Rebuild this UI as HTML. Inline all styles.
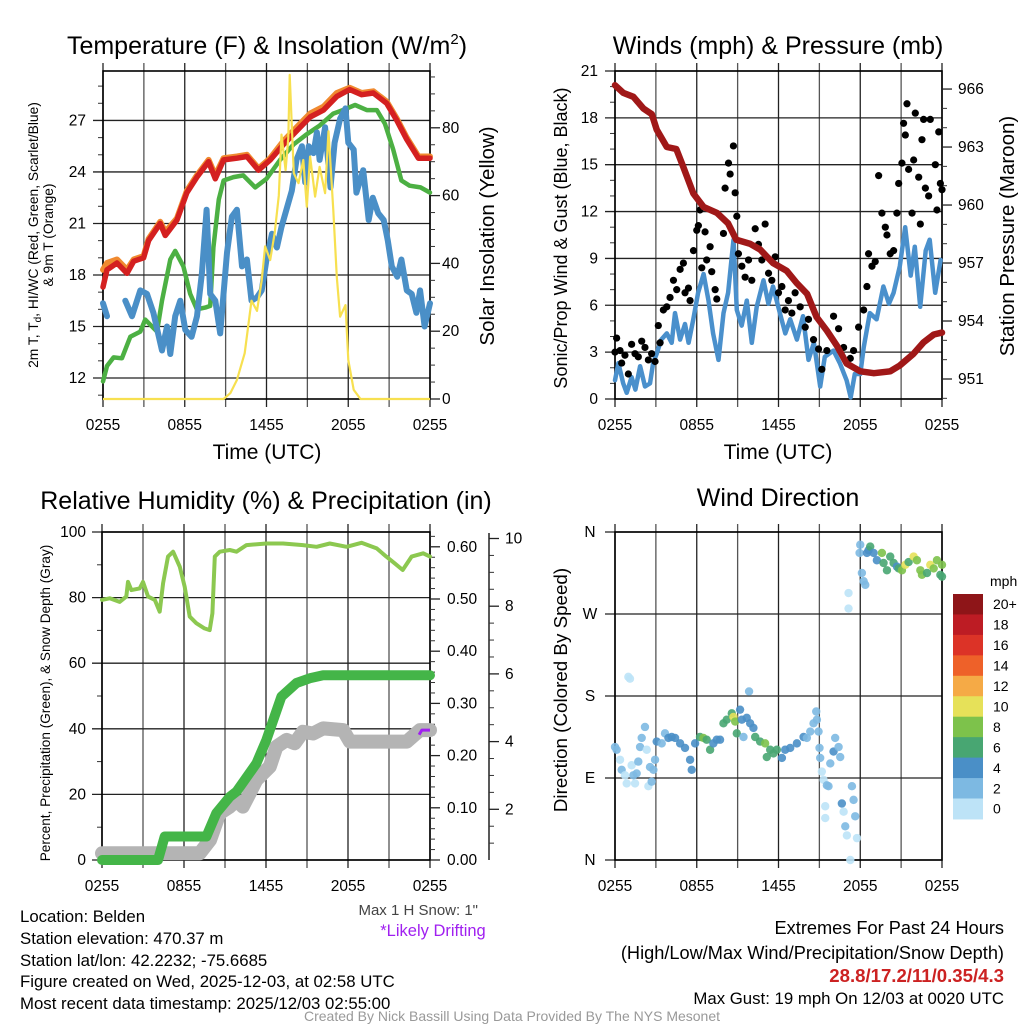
<!DOCTYPE html>
<html><head><meta charset="utf-8"><title>Mesonet Station Summary</title>
<style>
html,body{margin:0;padding:0;background:#fff;}
svg{display:block;font-family:"Liberation Sans",Arial,sans-serif;}
</style></head>
<body>
<svg id="chart" xmlns="http://www.w3.org/2000/svg" width="1024" height="1024" viewBox="0 0 1024 1024">
<rect x="0" y="0" width="1024" height="1024" fill="#fff"/>
<!-- titles -->
<text x="267" y="54" font-size="25" text-anchor="middle">Temperature (F) &amp; Insolation (W/m<tspan font-size="15" dy="-10">2</tspan><tspan dy="10">)</tspan></text>
<text x="778" y="54" font-size="25" text-anchor="middle">Winds (mph) &amp; Pressure (mb)</text>
<text x="266" y="509" font-size="25" text-anchor="middle">Relative Humidity (%) &amp; Precipitation (in)</text>
<text x="778" y="506" font-size="25" text-anchor="middle">Wind Direction</text>
<!-- axis titles -->
<text transform="translate(38,235) rotate(-90)" font-size="13.8" text-anchor="middle">2m T, T<tspan font-size="10" dy="3">d</tspan><tspan dy="-3">, HI/WC (Red, Green, Scarlet/Blue)</tspan></text>
<text transform="translate(53,235) rotate(-90)" font-size="13.8" text-anchor="middle">&amp; 9m T (Orange)</text>
<text transform="translate(494,236) rotate(-90)" font-size="20.5" text-anchor="middle">Solar Insolation (Yellow)</text>
<text x="267" y="459" font-size="21" text-anchor="middle">Time (UTC)</text>
<text transform="translate(567,238) rotate(-90)" font-size="18" text-anchor="middle">Sonic/Prop Wind &amp; Gust (Blue, Black)</text>
<text transform="translate(1014,236) rotate(-90)" font-size="20.5" text-anchor="middle">Station Pressure (Maroon)</text>
<text x="778" y="459" font-size="21" text-anchor="middle">Time (UTC)</text>
<text transform="translate(50,703) rotate(-90)" font-size="13.6" text-anchor="middle">Percent, Precipitation (Green), &amp; Snow Depth (Gray)</text>
<text transform="translate(567,690) rotate(-90)" font-size="18.8" text-anchor="middle">Direction (Colored By Speed)</text>
<!-- info text -->
<g font-size="16.8" fill="#000">
<text x="20" y="922">Location: Belden</text>
<text x="20" y="944">Station elevation: 470.37 m</text>
<text x="20" y="966">Station lat/lon: 42.2232; -75.6685</text>
<text x="20" y="987">Figure created on Wed, 2025-12-03, at 02:58 UTC</text>
<text x="20" y="1009">Most recent data timestamp: 2025/12/03 02:55:00</text>
<text x="478" y="915" text-anchor="end" fill="#444" font-size="15">Max 1 H Snow: 1"</text>
<text x="433" y="936" text-anchor="middle" fill="#a020f0" font-size="16.5">*Likely Drifting</text>
<text x="1004" y="934" text-anchor="end" font-size="18.2">Extremes For Past 24 Hours</text>
<text x="1004" y="959" text-anchor="end" font-size="18.2">(High/Low/Max Wind/Precipitation/Snow Depth)</text>
<text x="1004" y="982" text-anchor="end" font-size="18.6" font-weight="bold" fill="#cc2222">28.8/17.2/11/0.35/4.3</text>
<text x="1004" y="1004" text-anchor="end">Max Gust: 19 mph On 12/03 at 0020 UTC</text>
</g>
<text x="512" y="1021" font-size="14" text-anchor="middle" fill="#999">Created By Nick Bassill Using Data Provided By The NYS Mesonet</text>
</svg>
<script>
// ===== Data arrays =====
const xTickLabels = ["0255","0855","1455","2055","0255"];
// Panel 1
const redHours = [0,0.29,1.03,1.76,2.25,2.98,3.35,4.2,4.57,5.43,6.16,6.89,7.75,8.24,8.85,9.83,10.56,11.41,12.27,13.25,14.22,15.2,16.18,17.16,18.1,18.99,19.84,20.82,21.56,22.29,23.15,24];
const redTemp = [17.3,18.3,18.7,18.1,18.8,19.0,20.0,21.0,20.3,21.2,22.8,23.7,24.6,23.6,24.7,24.8,24.9,24.1,24.7,25.6,26.4,27.2,27.6,28.4,28.8,28.5,28.6,28.0,27.0,25.9,24.8,24.8];
const orangeTemp = [18.3,18.7,18.9,18.3,18.9,19.1,20.1,21.1,20.5,21.3,22.9,23.8,24.7,23.8,24.8,24.9,25.0,24.2,24.8,25.8,26.6,27.4,27.8,28.6,28.9,28.6,28.7,28.1,27.1,26.0,24.9,24.9];
const greenHours = [0,0.29,0.78,1.39,2.0,2.74,3.1,3.96,4.33,4.94,5.3,5.9,6.4,6.89,7.5,7.87,8.1,8.5,8.85,9.58,10.3,11.17,12.0,13.0,13.98,14.96,15.9,16.9,17.6,18.5,19.36,20.1,20.7,21.3,21.9,22.5,23.3,24];
const greenTemp = [11.8,12.7,13.2,13.15,14.4,14.7,15.4,14.7,16.5,18.9,19.4,18.5,16.9,16.0,16.1,16.2,19.6,22.4,23.5,23.7,23.8,23.1,23.6,24.7,25.6,26.2,26.7,27.4,27.6,27.9,27.6,27.6,26.8,25.3,23.5,23.2,23.1,22.8];
const blueHours = [0,0.29,0.6,1.64,2.13,2.74,3.23,3.7,4.33,4.7,4.94,5.3,5.67,6.04,6.5,6.9,7.26,7.6,7.87,8.24,8.6,9.1,9.46,9.83,10.2,10.56,10.9,11.3,11.65,12.0,12.4,12.76,13.1,13.5,13.86,14.2,14.6,14.84,15.1,15.45,15.7,15.9,16.3,16.7,17.0,17.4,17.8,18.0,18.4,18.6,19.1,19.5,19.8,20.2,20.6,20.9,21.2,21.6,21.9,22.3,22.66,23.0,23.27,23.6,24];
const blueTemp = [16.35,15.6,null,16.5,15.6,17.1,16.9,15.8,13.6,15.0,13.4,15.6,16.5,14.8,14.4,15.6,18.1,21.8,16.9,16.5,14.6,19.3,21.4,21.8,18.5,18.9,16.5,16.7,17.1,18.9,20.4,19.6,20.8,21.9,22.9,24.7,25.5,23.4,25.5,25.1,26.3,24.7,26.6,23.1,25.7,27.1,27.7,25.7,25.3,22.8,24.1,21.2,22.5,21.6,21.2,20.0,18.5,17.9,18.9,17.1,16.9,15.8,17.1,15.0,16.35];
const solarHours = [0,8.85,9.34,9.83,10.4,10.9,11.3,11.65,11.9,12.27,12.6,12.9,13.1,13.4,13.6,13.7,14.0,14.35,14.7,14.96,15.2,15.57,15.9,16.3,16.55,16.9,17.16,17.4,17.8,18.0,18.4,18.9,24];
const solarWm2 = [0,0,1.7,5.6,13.5,29,26,35,45,41,49,60,78,67.5,77,95.6,66.6,63.7,70.5,56.7,71.5,59.7,68.5,60.7,79,55.7,36,24.3,27.7,11.5,2.7,0,0];
const tempTicks = [12,15,18,21,24,27];
const solarTicks = [0,20,40,60,80];
// Panel 2
const pressHours = [0,0.61,1.35,2.08,2.7,3.06,3.8,4.5,5.0,5.75,6.5,7.47,8.3,8.9,9.4,9.9,10.65,11.6,12.6,13.35,14.1,14.8,15.55,16.3,17.0,18.0,19.0,20.2,20.9,21.9,22.65,23.4,24];
const pressMb = [966.2,965.8,965.6,965.0,964.7,963.9,963.0,962.9,962.0,960.6,959.9,959.6,959.05,958.2,958.1,958.0,957.7,957.0,956.6,955.95,955.4,954.2,953.5,952.7,951.8,951.4,951.3,951.4,951.7,952.3,952.9,953.3,953.4];
const windHours = [0,0.25,0.6,0.86,1.22,1.5,1.84,2.2,2.57,2.8,3.06,3.4,3.8,4.16,4.4,4.78,5.14,5.4,5.75,6.1,6.5,6.86,7.2,7.6,7.96,8.3,8.7,8.94,9.3,9.67,10.04,10.4,10.9,11.26,11.6,12.1,12.5,12.86,13.35,13.8,14.2,14.6,15.06,15.4,16.04,16.5,17.0,17.3,17.6,18.0,18.25,18.7,19.2,19.7,20.1,20.45,20.9,21.3,21.7,22.0,22.4,22.8,23.1,23.5,23.9];
const windMph = [1.2,2.3,1.0,0.4,1.4,0.6,2.1,0.8,1.0,2.3,2.9,3.8,4.2,3.6,5.5,3.8,4.8,3.6,5.1,6.8,8.0,6.3,4.2,2.5,5.5,6.8,10.2,5.7,4.7,6.3,3.6,5.9,7.6,6.1,7.2,5.5,4.2,5.1,3.8,5.3,2.5,3.6,0.8,2.7,3.1,2.3,1.2,0.1,1.6,1.6,3.3,5.5,5.1,7.2,6.1,6.8,8.5,11.0,7.9,9.75,5.9,9.5,10.2,6.8,8.9];
const gustHours = [0,0.12,0.37,0.49,0.73,0.98,1.22,1.47,1.71,1.96,2.2,2.45,2.69,2.94,3.18,3.31,3.55,3.8,4.04,4.29,4.53,4.78,5.02,5.14,5.39,5.51,5.76,6.0,6.12,6.24,6.37,6.61,6.73,6.98,7.1,7.35,7.47,7.96,8.08,8.33,8.45,8.69,8.82,8.94,9.06,9.31,9.55,9.8,10.04,10.29,10.53,10.78,11.02,11.27,11.51,11.76,12.0,12.25,12.49,12.73,12.98,13.22,13.59,13.96,14.2,14.57,14.94,15.18,15.55,16.04,16.41,16.78,17.27,17.51,17.88,18.25,18.49,18.61,18.86,19.1,19.35,19.59,19.84,19.96,20.2,20.45,20.69,20.82,21.06,21.18,21.31,21.43,21.55,21.8,21.92,22.04,22.29,22.41,22.53,22.65,22.78,23.02,23.14,23.51,23.63,23.76,23.88,24.0];
const gustMph = [3.0,3.9,3.1,2.3,2.8,1.6,3.5,2.9,2.7,3.7,3.3,2.5,2.9,2.4,4.7,3.6,5.7,5.9,6.5,7.6,7.0,8.3,8.7,6.8,7.1,6.3,9.5,10.8,11.1,12.1,8.4,10.7,8.9,9.75,8.15,7.0,6.4,10.6,13.5,15.1,14.4,16.2,13.2,11.7,9.3,8.5,7.8,8.9,7.6,10.9,9.9,8.9,11.2,8.05,7.6,9.1,6.8,7.2,5.7,6.3,5.5,6.8,5.9,4.6,5.1,3.8,3.2,1.9,3.1,5.3,4.5,3.3,2.6,3.1,4.6,5.7,7.2,9.3,8.5,8.8,14.3,11.9,11.0,10.5,9.3,9.5,11.9,13.8,15.1,17.65,16.9,18.9,14.7,11.9,15.3,18.3,14.2,11.2,16.6,17.9,13.5,13.0,17.9,15.0,12.1,17.1,13.8,13.4];
const windTicks = [0,3,6,9,12,15,18,21];
const pressTicks = [951,954,957,960,963,966];
// Panel 3
const rhHours = [0,0.56,1.29,1.78,1.9,2.15,2.76,3.0,3.37,3.86,4.22,4.47,4.83,5.2,5.69,6.05,6.42,6.9,7.5,7.88,8.08,8.25,8.62,9.35,9.84,10.57,12.03,13.25,14.7,15.7,16.67,17.9,18.99,20.1,20.8,21.4,22.0,22.65,23.5,24];
const rhPct = [79.3,79.8,78.7,80.3,84.8,82.3,82.8,84.8,80.3,79.3,75.7,84.4,92.5,94.0,89.4,83.3,74.2,72.2,70.6,70.1,75.2,92.5,94.0,94.5,94.0,96.0,96.5,96.5,96.0,95.5,96.5,95.5,96.7,95.0,92.5,90.5,88.4,92.5,93.5,92.5];
const precipHours = [0,4.1,4.59,7.64,8.37,9.35,9.84,11.3,12.03,13.13,14.23,15.2,16.18,24];
const precipIn = [0,0,0.045,0.045,0.09,0.121,0.131,0.185,0.23,0.313,0.339,0.348,0.354,0.354];
const snowHours = [0,7.15,7.9,8.6,9.35,9.84,10.3,10.8,11.3,12.28,12.77,13.5,14.1,14.7,15.45,16.18,17.65,18.14,22.3,23.26,24];
const snowIn = [0.7,0.7,1.09,1.88,2.08,2.27,2.08,2.47,2.87,3.26,3.85,4.05,3.95,4.29,4.24,4.39,4.34,4.0,4.0,4.34,4.34];
const driftHours = [23.2,23.4,24];
const driftIn = [4.2,4.34,4.34];
const rhTicks = [0,20,40,60,80,100];
const precipTicks = [0,0.1,0.2,0.3,0.4,0.5,0.6];
const precipTickLabels = ["0.00","0.10","0.20","0.30","0.40","0.50","0.60"];
const snowTicks = [2,4,6,8,10];
// Panel 4
const dirHours = [0,0.12,0.37,0.49,0.73,0.86,0.98,1.1,1.22,1.35,1.47,1.59,1.71,1.84,1.96,2.2,2.33,2.45,2.57,2.69,2.82,2.94,3.06,3.43,3.67,3.92,4.16,4.41,4.78,5.14,5.51,5.63,5.88,6.24,6.49,6.73,6.98,7.22,7.47,7.71,7.96,8.2,8.57,8.69,8.82,8.94,9.18,9.31,9.43,9.67,9.84,9.92,10.16,10.29,10.65,11.02,11.14,11.39,11.63,11.88,12.25,12.49,12.86,13.35,13.84,14.08,14.33,14.57,14.77,14.82,14.94,15.01,15.06,15.18,15.31,15.55,15.67,15.43,15.43,15.8,16.04,16.16,16.41,16.53,16.65,16.78,16.9,17.02,17.27,17.39,17.51,17.63,17.76,17.14,17.14,18.0,17.95,18.12,18.25,18.37,18.49,18.61,18.73,18.98,19.22,19.59,19.71,19.96,20.2,20.45,20.69,20.82,21.06,21.31,21.55,21.92,22.16,22.41,22.53,22.9,23.14,23.39,23.63,23.88,24,24];
const dirDeg = [124,121,110,99,93,84,201,199,104,93,84,95,108,124,134,146,121,81,102,86,99,110,130,128,139,134,135,134,128,123,110,99,128,135,134,132,121,128,132,132,150,154,161,157,152,139,165,154,135,156,185,150,145,135,130,128,113,121,117,121,112,121,123,128,135,134,141,150,163,154,141,123,112,97,88,82,81,59,46,106,119,134,124,113,62,53,37,27,0,81,66,48,24,293,276,346,337,315,306,302,337,340,344,337,329,337,326,318,333,326,322,320,318,324,327,333,329,318,313,315,324,320,329,313,324,311];
const dirSpeed = [3,3,1,3,1,1,1,1,1,3,1,3,3,3,3,3,1,1,3,3,3,3,5,3,3,5,5,5,5,5,5,5,5,7,9,7,7,5,5,5,7,7,7,11,9,7,5,5,3,5,3,5,5,7,7,9,7,7,7,7,5,5,5,5,5,3,3,3,3,3,3,3,3,1,1,3,3,1,1,3,5,3,3,3,5,1,3,1,1,3,3,3,1,1,1,3,3,3,3,3,5,5,7,5,5,9,7,7,7,7,5,7,9,11,7,11,9,9,9,7,11,9,9,7,9,7];
const dirTicks = [0,90,180,270,360];
const dirTickLabels = ["N","E","S","W","N"];
const speedBinLabels = ["20+","18","16","14","12","10","8","6","4","2","0"];
const speedBinColors = ["#8e1518","#bd1c24","#dc3327","#ee6129","#f5aa46","#e6e159","#7dc24b","#48a672","#4a8fc7","#7db9e2","#bde3f7"];

// ===== Scales =====
const P1 = {x0:103,x1:430,y0:71,y1:399};
const P2 = {x0:615,x1:942,y0:71,y1:399};
const P3 = {x0:102,x1:430,y0:532,y1:860};
const P4 = {x0:615,x1:942,y0:532,y1:860};
function xScale(p,h){return p.x0 + h*(p.x1-p.x0)/24;}
function yTemp(t){return 378 - (t-12)*17.17;}
function ySolar(s){return 399 - s*3.39;}
function yWind(v){return 399 - v*15.62;}
function yPress(p){return 379 - (p-951)*19.33;}
function yRH(r){return 860 - r*3.28;}
function yPrecip(v){return 860 - v*522;}
function ySnow(s){return 877 - s*33.85;}
function yDir(d){return 860 - d*0.9111;}
function speedColor(s){let i=Math.min(10,Math.floor(s/2));return speedBinColors[10-i];}

const NS='http://www.w3.org/2000/svg';
const svg=document.getElementById('chart');
function mk(tag,attrs,parent){const e=document.createElementNS(NS,tag);for(const k in attrs)e.setAttribute(k,attrs[k]);(parent||svg).appendChild(e);return e;}
function pathD(p,hs,vs,yf){let d='',pen=false;for(let i=0;i<hs.length;i++){if(vs[i]===null||vs[i]===undefined){pen=false;continue;}d+=(pen?'L':'M')+xScale(p,hs[i]).toFixed(1)+' '+yf(vs[i]).toFixed(1);pen=true;}return d;}

function drawFrame(p,prefix,yTicksPx,minorPx){
  const g=mk('g',{});
  
  
  for(let k=0;k<=8;k++){
    const x=p.x0+k*(p.x1-p.x0)/8;
    const ln=mk('line',{x1:x,y1:p.y0-8,x2:x,y2:p.y1+8,stroke:(k%2?'#555':'#222'),'stroke-width':1.3},g);
    
    
  }
  yTicksPx.forEach(y=>{
    const ln=mk('line',{x1:p.x0-10,y1:y,x2:p.x1,y2:y,stroke:'#222','stroke-width':1.3},g);
    
    
  });
  minorPx.forEach(y=>{
    const ln=mk('line',{x1:p.x0-5,y1:y,x2:p.x0,y2:y,stroke:'#333','stroke-width':1},g);
    
    
  });
  const fr=mk('rect',{x:p.x0,y:p.y0,width:p.x1-p.x0,height:p.y1-p.y0,fill:'none',stroke:'#000','stroke-width':1.6},g);
  
  
  return g;
}
function xLabels(p,prefix,y){
  xTickLabels.forEach((lab,i)=>{
    const t=mk('text',{x:xScale(p,i*6),y:y,'font-size':15.5,'text-anchor':'middle'});
    t.textContent=lab;
    
    
  });
}
function leftLabels(labels,ys,x,prefix,size){
  labels.forEach((lab,i)=>{
    const t=mk('text',{x:x,y:ys[i]+5,'font-size':size||15.5,'text-anchor':'end'});
    t.textContent=lab;
    
    
  });
}
function rightAxis(xAxis,ys,labels,minorYs,lx,prefix,anchor){
  ys.forEach((y,i)=>{
    const ln=mk('line',{x1:xAxis,y1:y,x2:xAxis+10,y2:y,stroke:'#222','stroke-width':1.3});
    
    
    const t=mk('text',{x:lx,y:y+5,'font-size':15.5,'text-anchor':anchor||'start'});
    t.textContent=labels[i];
    
    
  });
  minorYs.forEach(y=>{
    const ln=mk('line',{x1:xAxis,y1:y,x2:xAxis+5,y2:y,stroke:'#333','stroke-width':1});
    
    
  });
}
function range(a,b,s){const r=[];for(let v=a;v<=b+1e-9;v+=s)r.push(+v.toFixed(4));return r;}

// ===== Panel 1 =====
drawFrame(P1,'temperature',tempTicks.map(yTemp),range(11,29,1).filter(v=>v%3).map(yTemp).filter(y=>y>P1.y0&&y<P1.y1));
leftLabels(tempTicks.map(String),tempTicks.map(yTemp),86,'temperature-y');
rightAxis(P1.x1,solarTicks.map(ySolar),solarTicks.map(String),range(5,95,5).filter(v=>v%20).map(ySolar),442,'insolation-y');
xLabels(P1,'temperature',430);
let e;
e=mk('path',{d:pathD(P1,redHours,orangeTemp,yTemp),fill:'none',stroke:'#f08a30','stroke-width':6,'stroke-linejoin':'round','stroke-linecap':'round'});


e=mk('path',{d:pathD(P1,greenHours,greenTemp,yTemp),fill:'none',stroke:'#4cb043','stroke-width':4.5,'stroke-linejoin':'round','stroke-linecap':'round'});


e=mk('path',{d:pathD(P1,blueHours,blueTemp,yTemp),fill:'none',stroke:'#4a8fc7','stroke-width':6,'stroke-linejoin':'round','stroke-linecap':'round'});


e=mk('path',{d:pathD(P1,redHours,redTemp,yTemp),fill:'none',stroke:'#d42020','stroke-width':5.5,'stroke-linejoin':'round','stroke-linecap':'round'});


e=mk('path',{d:pathD(P1,solarHours,solarWm2,ySolar),fill:'none',stroke:'#f7e050','stroke-width':2.2,'stroke-linejoin':'round'});



// ===== Panel 2 =====
drawFrame(P2,'winds',windTicks.map(yWind),range(0,21,1).filter(v=>v%3).map(yWind));
leftLabels(windTicks.map(String),windTicks.map(yWind),598,'wind-y');
rightAxis(P2.x1,pressTicks.map(yPress),pressTicks.map(String),range(950,967,1).filter(v=>v%3).map(yPress).filter(y=>y>P2.y0&&y<P2.y1),958,'pressure-y');
xLabels(P2,'winds',430);
e=mk('path',{d:pathD(P2,windHours,windMph,yWind),fill:'none',stroke:'#4a90cc','stroke-width':4.5,'stroke-linejoin':'round','stroke-linecap':'round'});


gustHours.forEach((h,i)=>{
  const c=mk('circle',{cx:xScale(P2,h),cy:yWind(gustMph[i]),r:3.6,fill:'#000'});
  
  
});
e=mk('path',{d:pathD(P2,pressHours,pressMb,yPress),fill:'none',stroke:'#a01818','stroke-width':6.5,'stroke-linejoin':'round','stroke-linecap':'round'});



// ===== Panel 3 =====
drawFrame(P3,'humidity',rhTicks.map(yRH),range(10,90,20).map(yRH));
leftLabels(rhTicks.map(String),rhTicks.map(yRH),86,'humidity-y');
rightAxis(P3.x1,precipTicks.map(yPrecip),precipTickLabels,range(0.02,0.62,0.02).filter(v=>Math.round(v*100)%10).map(yPrecip),447,'precip-y');
e=mk('line',{x1:489,y1:533,x2:489,y2:860,stroke:'#222','stroke-width':1.5});


rightAxis(489,snowTicks.map(ySnow),snowTicks.map(String),range(0.5,10,0.5).filter(v=>v%2).map(ySnow).filter(y=>y<860),505,'snow-y');
xLabels(P3,'humidity',891);
e=mk('path',{d:pathD(P3,rhHours,rhPct,yRH),fill:'none',stroke:'#8cc850','stroke-width':4,'stroke-linejoin':'round','stroke-linecap':'round'});


e=mk('path',{d:pathD(P3,snowHours,snowIn,ySnow),fill:'none',stroke:'#b4b4b4','stroke-width':14,'stroke-linejoin':'round','stroke-linecap':'round'});


e=mk('path',{d:pathD(P3,driftHours,driftIn,ySnow),fill:'none',stroke:'#a020f0','stroke-width':3,'stroke-linejoin':'round'});


e=mk('path',{d:pathD(P3,precipHours,precipIn,yPrecip),fill:'none',stroke:'#44b548','stroke-width':10,'stroke-linejoin':'round','stroke-linecap':'round'});



// ===== Panel 4 =====
drawFrame(P4,'direction',dirTicks.map(yDir),[]);
dirTickLabels.forEach((lab,i)=>{
  const t=mk('text',{x:590,y:yDir(dirTicks[i])+5,'font-size':15.5,'text-anchor':'middle'});
  t.textContent=lab;
  
  
});
xLabels(P4,'direction',891);
dirHours.forEach((h,i)=>{
  const c=mk('circle',{cx:xScale(P4,h),cy:yDir(dirDeg[i]),r:4.2,fill:speedColor(dirSpeed[i]),'fill-opacity':0.9});
  
  
});
// colorbar
const cbTop=594, cbH=20.45;
e=mk('text',{x:990,y:586,'font-size':14});
e.textContent='mph';


speedBinLabels.forEach((lab,i)=>{
  const r=mk('rect',{x:953,y:cbTop+i*cbH,width:30,height:cbH+0.5,fill:speedBinColors[i]});
  
  
  const t=mk('text',{x:993,y:cbTop+i*cbH+cbH/2+5,'font-size':14});
  t.textContent=lab;
  
  
});
</script>
</body></html>
